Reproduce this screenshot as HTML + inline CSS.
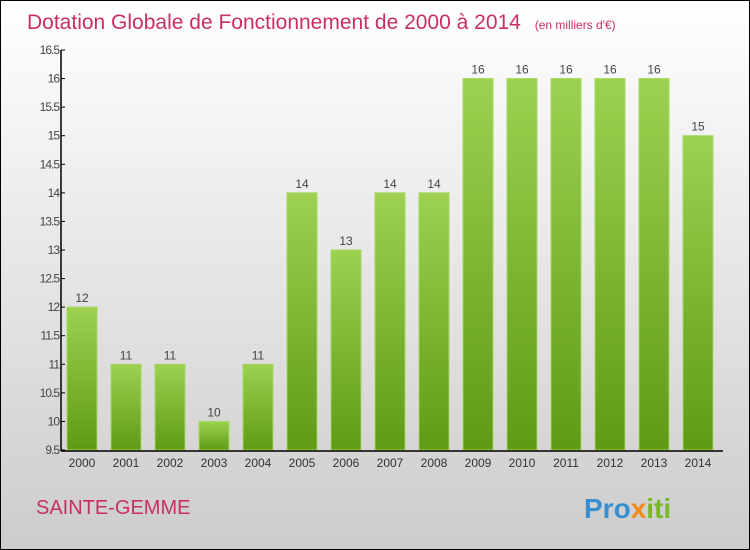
<!DOCTYPE html>
<html><head><meta charset="utf-8"><style>
body{margin:0}
#c{width:748px;height:548px;border:1px solid #000;background:linear-gradient(#fff,#ccc);position:relative;font-family:"Liberation Sans",sans-serif;overflow:hidden}
</style></head><body>
<div id="c">
<svg id="s" width="748" height="548">
<defs><linearGradient id="g" x1="0" y1="0" x2="0" y2="1"><stop offset="0" stop-color="#9dd151"/><stop offset="1" stop-color="#5f9a15"/></linearGradient></defs>
<text x="26" y="28" font-size="21" fill="#c8305f">Dotation Globale de Fonctionnement de 2000 à 2014 <tspan font-size="12" dx="8">(en milliers d'€)</tspan></text>
<text x="35" y="513" font-size="20" fill="#c8305f">SAINTE-GEMME</text>
<text x="583" y="517" font-size="28" font-weight="bold" fill="#3a8fd0">Pro<tspan fill="#f08a1c">x</tspan><tspan fill="#7ab828">iti</tspan></text>
<g id="plot"></g>
</svg></div>
<script>
const years=["2000","2001","2002","2003","2004","2005","2006","2007","2008","2009","2010","2011","2012","2013","2014"];
const values=[12,11,11,10,11,14,13,14,14,16,16,16,16,16,15];
const yTicks=[9.5,10,10.5,11,11.5,12,12.5,13,13.5,14,14.5,15,15.5,16,16.5];
const ns="http://www.w3.org/2000/svg",p=document.getElementById('plot');
const y=v=>449-(v-9.5)*(400/7), x=i=>81+i*44;
function el(t,a,txt){const e=document.createElementNS(ns,t);for(const k in a)e.setAttribute(k,a[k]);if(txt!=null)e.textContent=txt;p.appendChild(e);return e;}
years.forEach((yr,i)=>{
 const r=el('rect',{x:x(i)-15,y:y(values[i]),width:30,height:449-y(values[i]),fill:'url(#g)',stroke:'#a6d85e','stroke-width':1});
 
 
 const l=el('text',{x:x(i),y:y(values[i])-5,'text-anchor':'middle','font-size':12,fill:'#444'},String(values[i]));
 
 
 const t=el('text',{x:x(i),y:466,'text-anchor':'middle','font-size':12,fill:'#333'},yr);
 
 
});
yTicks.forEach(v=>{
 const tk=el('line',{x1:60,x2:64,y1:y(v),y2:y(v),stroke:'#000'});
 
 
 const t=el('text',{x:58,y:y(v)+4,'text-anchor':'end','font-size':12,fill:'#444','letter-spacing':'-1'},String(v));
 
 
});
const ya=el('line',{x1:60,x2:60,y1:49,y2:450,stroke:'#000','stroke-width':1.5});


const xa=el('line',{x1:60,x2:722,y1:450,y2:450,stroke:'#000','stroke-width':1.5});


</script></body></html>
